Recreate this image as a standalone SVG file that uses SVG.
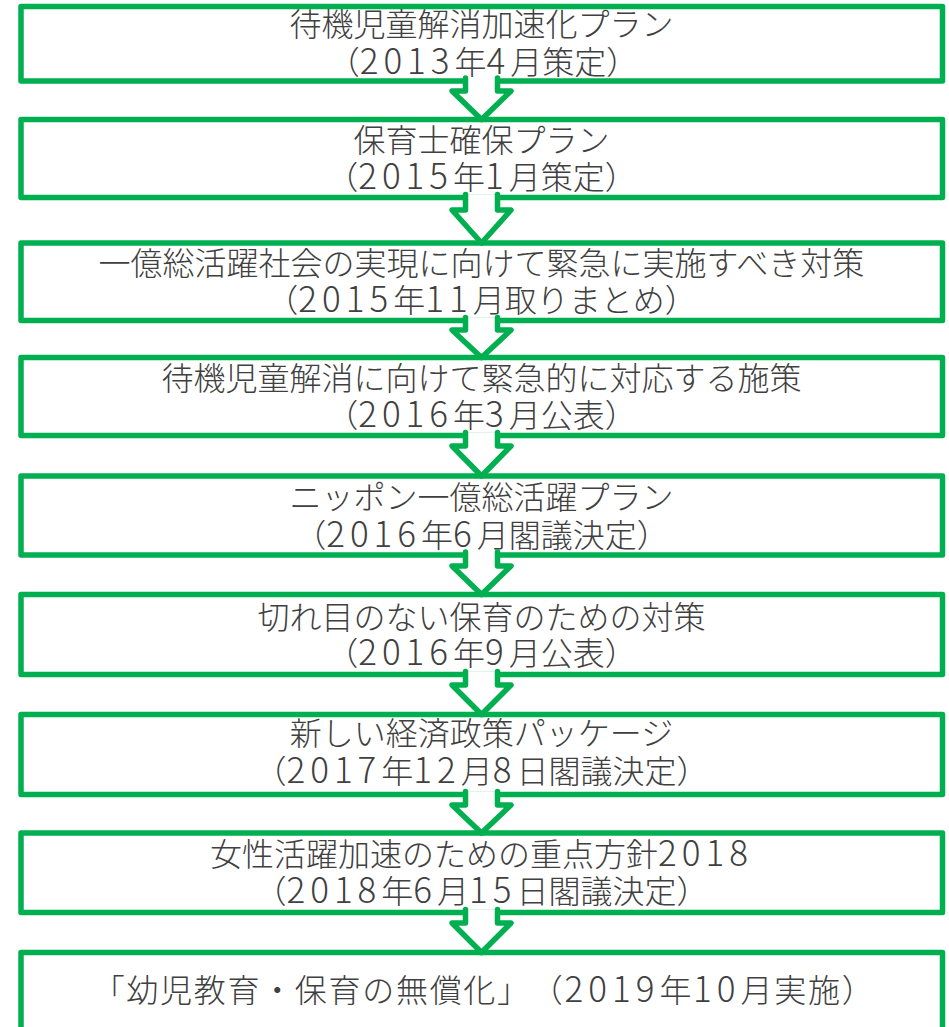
<svg xmlns="http://www.w3.org/2000/svg" width="949" height="1027" viewBox="0 0 949 1027">
<style>
.box{fill:#ffffff;stroke:#00b050;stroke-width:5.5;stroke-linejoin:round}
.arr{fill:#ffffff;stroke:#00b050;stroke-width:5.5;stroke-linejoin:round;stroke-linecap:round}
.t{font-family:"Noto Sans CJK JP","Noto Sans CJK SC",sans-serif;font-size:32px;fill:#404040;text-anchor:middle;font-weight:300;text-spacing-trim:space-all}
.n{font-size:35px;letter-spacing:5px}
</style>
<rect width="949" height="1027" fill="#ffffff"/>
<g id="node1"><rect class="box" x="21" y="6.5" width="921.5" height="74.5"/>
<text class="t" x="481.5" y="36">待機児童解消加速化プラン</text>
<text class="t" x="483" y="73.5">（<tspan class="n">2013</tspan>年<tspan class="n">4</tspan>月策定）</text></g>
<g id="node2"><rect class="box" x="21" y="119.5" width="921.5" height="78"/>
<text class="t" x="481.5" y="151.5">保育士確保プラン</text>
<text class="t" x="481.5" y="188.5">（<tspan class="n">2015</tspan>年<tspan class="n">1</tspan>月策定）</text></g>
<g id="node3"><rect class="box" x="21" y="243" width="921.5" height="77.5"/>
<text class="t" x="481.5" y="274.5">一億総活躍社会の実現に向けて緊急に実施すべき対策</text>
<text class="t" x="481.5" y="312">（<tspan class="n">2015</tspan>年<tspan class="n">11</tspan>月取りまとめ）</text></g>
<g id="node4"><rect class="box" x="21" y="357.5" width="921.5" height="78"/>
<text class="t" x="481.5" y="389.5">待機児童解消に向けて緊急的に対応する施策</text>
<text class="t" x="481.5" y="427">（<tspan class="n">2016</tspan>年<tspan class="n">3</tspan>月公表）</text></g>
<g id="node5"><rect class="box" x="21" y="476" width="921.5" height="79"/>
<text class="t" x="481.5" y="508.5">ニッポン一億総活躍プラン</text>
<text class="t" x="481.5" y="546.5">（<tspan class="n">2016</tspan>年<tspan class="n">6</tspan>月閣議決定）</text></g>
<g id="node6"><rect class="box" x="21" y="594.5" width="921.5" height="80"/>
<text class="t" x="481.5" y="628.5">切れ目のない保育のための対策</text>
<text class="t" x="481.5" y="664.5">（<tspan class="n">2016</tspan>年<tspan class="n">9</tspan>月公表）</text></g>
<g id="node7"><rect class="box" x="21" y="714.5" width="921.5" height="80"/>
<text class="t" x="481.5" y="744.5">新しい経済政策パッケージ</text>
<text class="t" x="481.5" y="782.5">（<tspan class="n">2017</tspan>年<tspan class="n">12</tspan>月<tspan class="n">8</tspan>日閣議決定）</text></g>
<g id="node8"><rect class="box" x="21" y="833" width="921.5" height="79.5"/>
<text class="t" x="481.5" y="865.5">女性活躍加速のための重点方針<tspan class="n">2018</tspan></text>
<text class="t" x="481.5" y="902.5">（<tspan class="n">2018</tspan>年<tspan class="n">6</tspan>月<tspan class="n">15</tspan>日閣議決定）</text></g>
<g id="node9"><rect class="box" x="21" y="952.5" width="921.5" height="110"/>
<text class="t" x="484" y="1002" style="letter-spacing:1.7px">「幼児教育・保育の無償化」（<tspan class="n">2019</tspan>年<tspan class="n">10</tspan>月実施）</text></g>
<g id="connectors">
<path class="arr" d="M465.5,78 V91 H452 L481.5,119.5 L511,91 H497.5 V78"/>
<path class="arr" d="M465.5,194.5 V210 H452 L481.5,243 L511,210 H497.5 V194.5"/>
<path class="arr" d="M465.5,317.5 V330 H452 L481.5,357.5 L511,330 H497.5 V317.5"/>
<path class="arr" d="M465.5,432.5 V446 H452 L481.5,476 L511,446 H497.5 V432.5"/>
<path class="arr" d="M465.5,552 V566 H452 L481.5,594.5 L511,566 H497.5 V552"/>
<path class="arr" d="M465.5,671.5 V685 H452 L481.5,714.5 L511,685 H497.5 V671.5"/>
<path class="arr" d="M465.5,791.5 V805 H452 L481.5,833 L511,805 H497.5 V791.5"/>
<path class="arr" d="M465.5,909.5 V923 H452 L481.5,952.5 L511,923 H497.5 V909.5"/>
</g>
</svg>
